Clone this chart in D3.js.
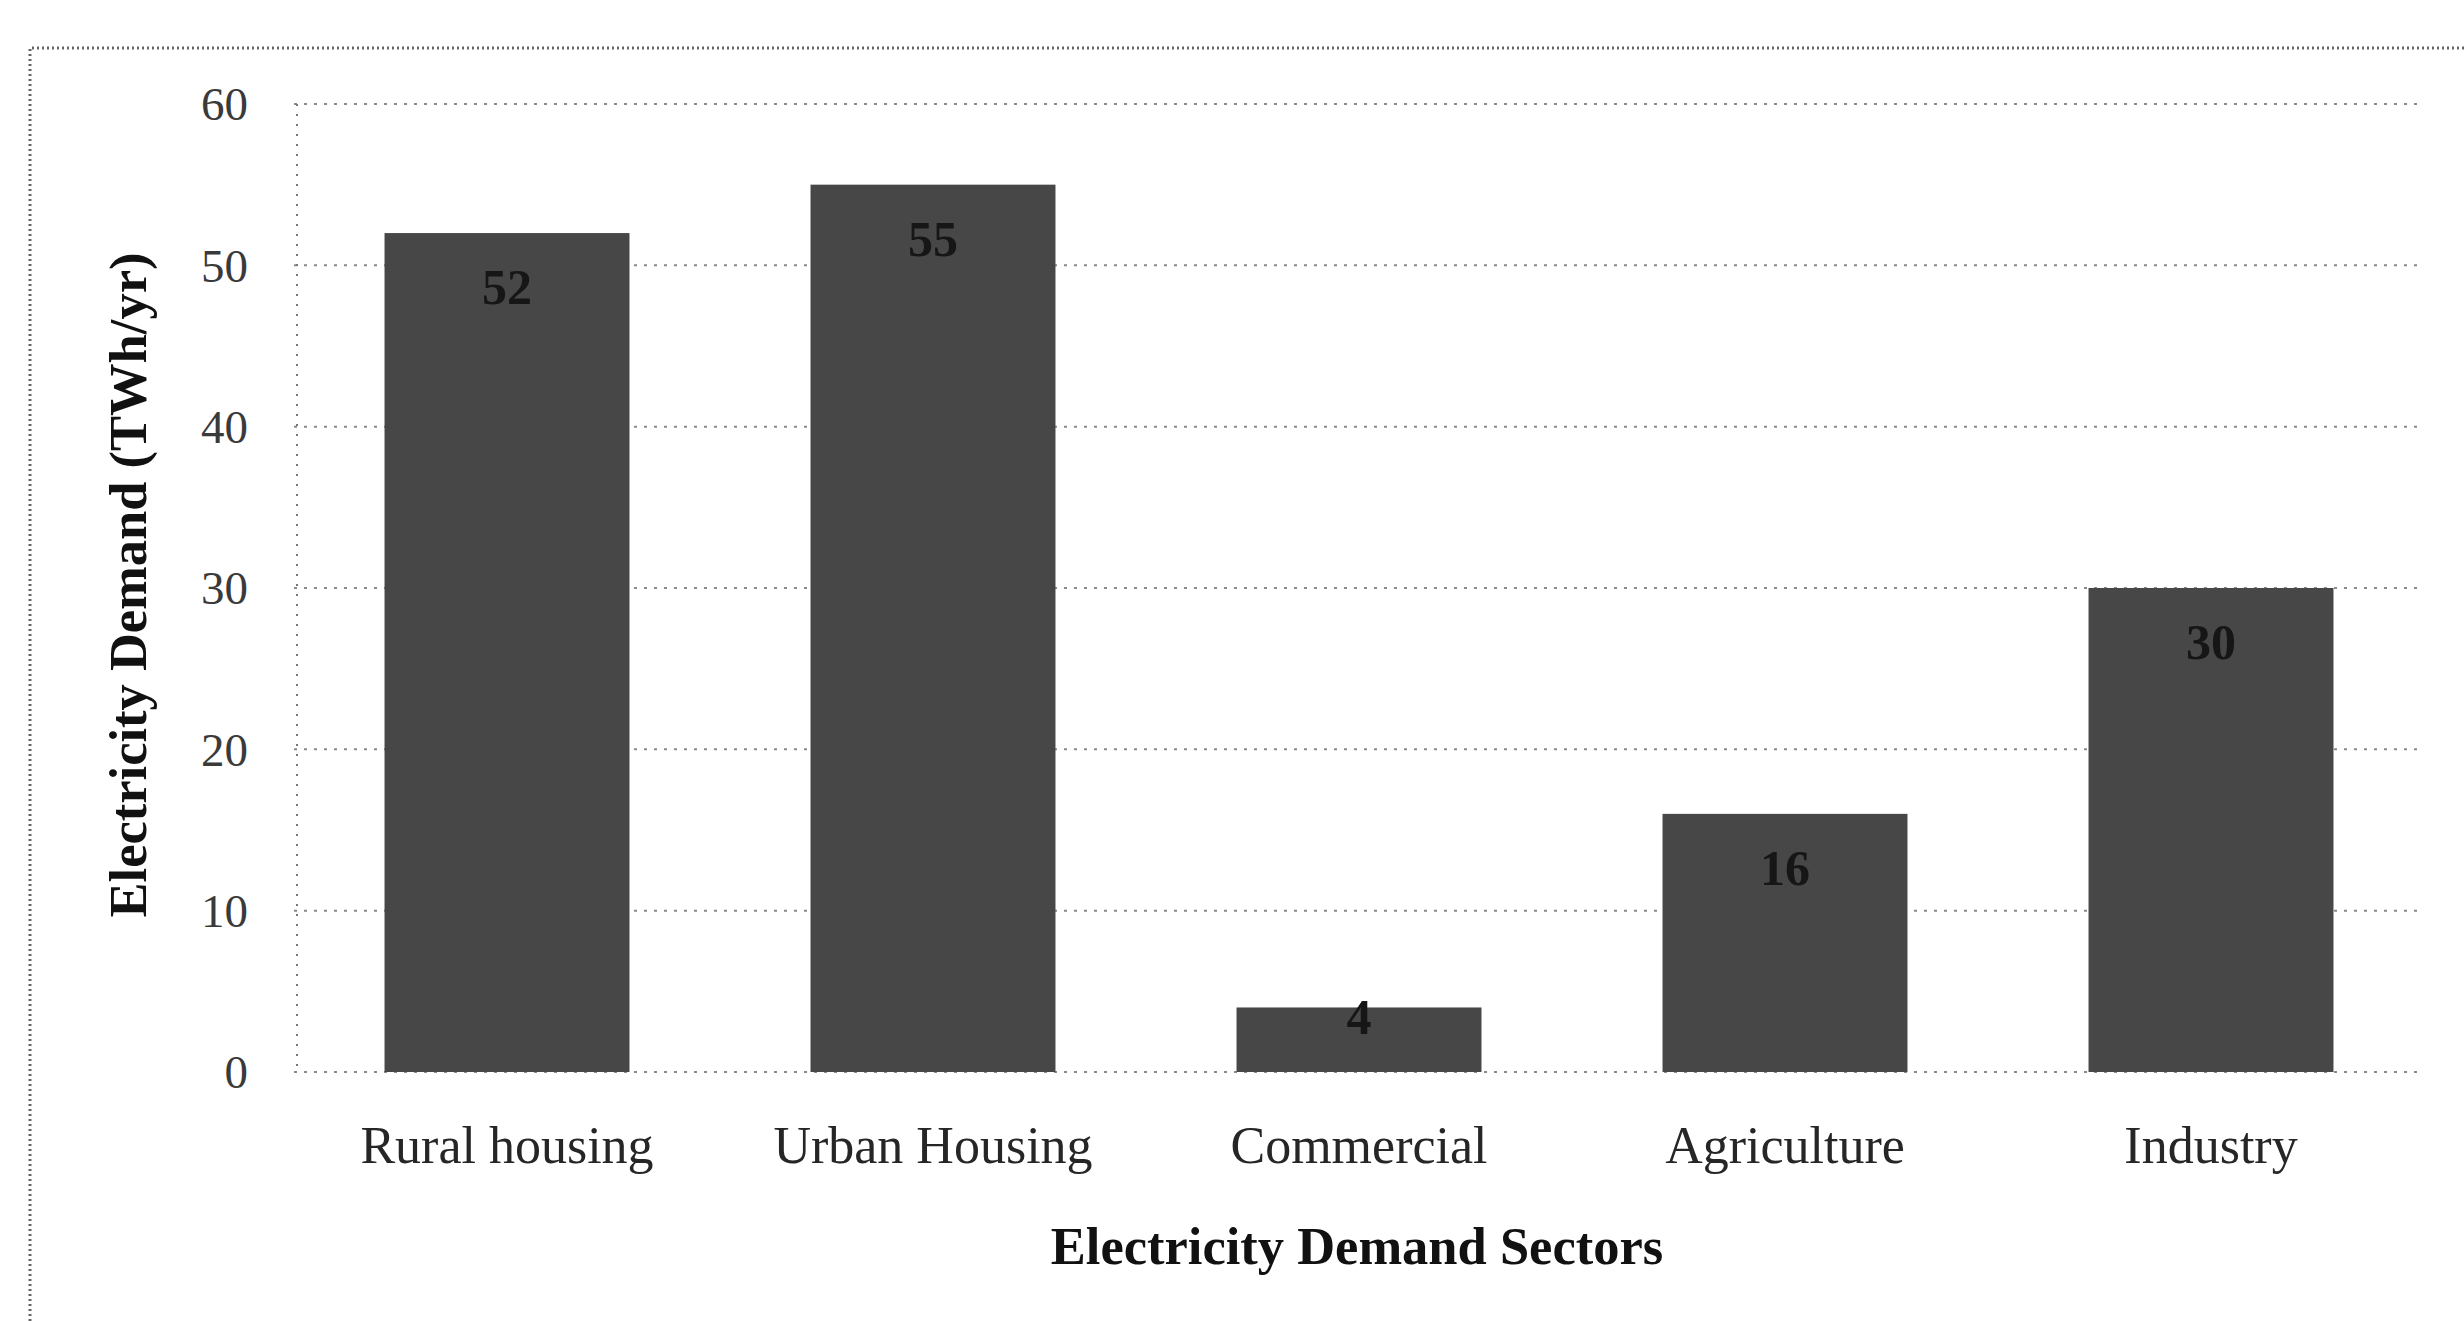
<!DOCTYPE html>
<html>
<head>
<meta charset="utf-8">
<script src="https://cdn.jsdelivr.net/npm/d3@7"></script>
<style>
  html, body { margin: 0; padding: 0; background: #fff; }
  svg { display: block; }
  text { font-family: "Liberation Serif", "Times New Roman", serif; }
</style>
</head>
<body>
<script>
// Electricity demand by sector (TWh/yr)
const sectors = ["Rural housing", "Urban Housing", "Commercial", "Agriculture", "Industry"];
const demand = [52, 55, 4, 16, 30];
const yTicks = [0, 10, 20, 30, 40, 50, 60];
const xTitle = "Electricity Demand Sectors";
const yTitle = "Electricity Demand (TWh/yr)";

const W = 2464, H = 1321;
const plot = { left: 294, right: 2424, top: 104, bottom: 1072 };

const svg = d3.select("body").append("svg")
  .attr("width", W).attr("height", H);

svg.append("rect").attr("width", W).attr("height", H).attr("fill", "#fff");

// dotted frame along the top and left edges
svg.append("path")
  .attr("d", `M30,${H} L30,48 L${W},48`)
  .attr("fill", "none")
  .attr("stroke", "#666")
  .attr("stroke-width", 3)
  .attr("stroke-dasharray", "2,3");

const x = d3.scaleBand()
  .domain(sectors)
  .range([plot.left, plot.right])
  .paddingInner(0.425)
  .paddingOuter(0.2125);

const y = d3.scaleLinear()
  .domain([0, 60])
  .range([plot.bottom, plot.top]);

// horizontal gridlines
svg.append("g")
  .selectAll("line")
  .data(yTicks)
  .join("line")
  .attr("x1", plot.left)
  .attr("x2", plot.right)
  .attr("y1", d => y(d))
  .attr("y2", d => y(d))
  .attr("stroke", "#8a8a8a")
  .attr("stroke-width", 2)
  .attr("stroke-dasharray", "3,7");

// left axis line
svg.append("line")
  .attr("x1", plot.left + 3).attr("x2", plot.left + 3)
  .attr("y1", plot.top).attr("y2", plot.bottom)
  .attr("stroke", "#777")
  .attr("stroke-width", 2)
  .attr("stroke-dasharray", "2,8");

// y axis tick labels
const yAxis = d3.axisLeft(y).tickValues(yTicks).tickSize(0).tickPadding(0);
const gy = svg.append("g")
  .attr("transform", `translate(${plot.left - 46},0)`)
  .call(yAxis);
gy.select(".domain").remove();
gy.selectAll("text")
  .attr("font-family", "Liberation Serif, serif")
  .attr("font-size", 47)
  .attr("fill", "#3a3a3a")
  .attr("dy", "0.34em");

// bars
svg.append("g")
  .selectAll("rect")
  .data(demand)
  .join("rect")
  .attr("x", (d, i) => x(sectors[i]))
  .attr("y", d => y(d))
  .attr("width", x.bandwidth())
  .attr("height", d => y(0) - y(d))
  .attr("fill", "#474747");

// value labels inside the bar tops
svg.append("g")
  .selectAll("text")
  .data(demand)
  .join("text")
  .attr("x", (d, i) => x(sectors[i]) + x.bandwidth() / 2)
  .attr("y", d => (y(0) - y(d) > 120 ? y(d) + 54 : y(d) + 10))
  .attr("text-anchor", "middle")
  .attr("dominant-baseline", "central")
  .attr("font-size", 50)
  .attr("font-weight", "bold")
  .attr("fill", "#161616")
  .text(d => d);

// category labels
const xAxis = d3.axisBottom(x).tickSize(0).tickPadding(0);
const gx = svg.append("g")
  .attr("transform", `translate(0,${plot.bottom})`)
  .call(xAxis);
gx.select(".domain").remove();
gx.selectAll("text")
  .attr("font-family", "Liberation Serif, serif")
  .attr("font-size", 52)
  .attr("fill", "#262626")
  .attr("dy", null)
  .attr("y", 91);

// axis titles
svg.append("text")
  .attr("x", 1357)
  .attr("y", 1246)
  .attr("text-anchor", "middle")
  .attr("dominant-baseline", "central")
  .attr("font-size", 52.5)
  .attr("font-weight", "bold")
  .attr("fill", "#111")
  .text(xTitle);

svg.append("text")
  .attr("transform", `translate(128,585) rotate(-90)`)
  .attr("text-anchor", "middle")
  .attr("dominant-baseline", "central")
  .attr("font-size", 52.5)
  .attr("font-weight", "bold")
  .attr("fill", "#111")
  .text(yTitle);
</script>
</body>
</html>
